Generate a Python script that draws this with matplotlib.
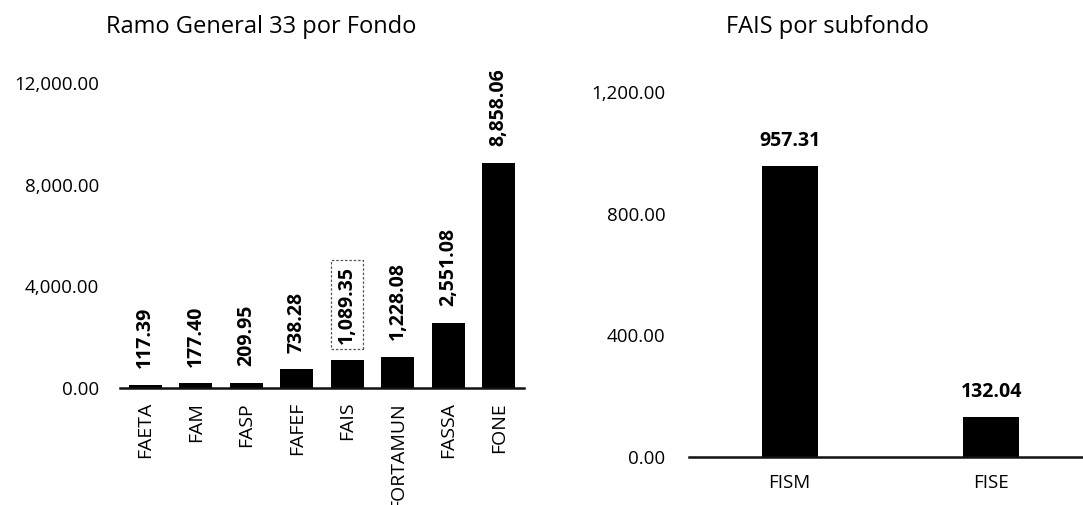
import matplotlib
matplotlib.use("Agg")
import matplotlib.pyplot as plt
from matplotlib.ticker import FuncFormatter

plt.rcParams['font.family'] = ['Open Sans', 'DejaVu Sans']

# Data
fondos = ["FAETA", "FAM", "FASP", "FAFEF", "FAIS", "FORTAMUN", "FASSA", "FONE"]
fondos_vals = [117.39, 177.40, 209.95, 738.28, 1089.35, 1228.08, 2551.08, 8858.06]
fondos_ticks = [0, 4000, 8000, 12000]

subfondos = ["FISM", "FISE"]
subfondos_vals = [957.31, 132.04]
subfondos_ticks = [0, 400, 800, 1200]

W, H = 1083, 505
fig = plt.figure(figsize=(W / 100, H / 100), dpi=100)

fmt = FuncFormatter(lambda v, p: f"{v:,.2f}")

def style(ax):
    for s in ["top", "right", "left"]:
        ax.spines[s].set_visible(False)
    ax.spines["bottom"].set_linewidth(1.8)
    ax.spines["bottom"].set_color("#111111")
    ax.tick_params(axis="both", length=0)
    ax.tick_params(axis="y", labelsize=13.5)
    ax.tick_params(axis="x", labelsize=14)
    ax.yaxis.set_major_formatter(fmt)

# Left chart
ax1 = fig.add_axes([120 / W, 1 - 388 / H, 404 / W, 305 / H])
x1 = range(len(fondos))
ax1.bar(x1, fondos_vals, width=0.66, color="black")
ax1.set_xlim(-0.5, len(fondos) - 0.5)
ax1.set_ylim(0, 12000)
ax1.set_yticks(fondos_ticks)
ax1.set_xticks(list(x1))
ax1.set_xticklabels(fondos, rotation=90)
style(ax1)
ax1.tick_params(axis="x", pad=10)
ax1.tick_params(axis="y", pad=15)
for i, v in enumerate(fondos_vals):
    kw = {}
    if fondos[i] == "FAIS":
        kw["bbox"] = dict(boxstyle="square,pad=0.3", fc="none", ec="#555555",
                          ls=(0, (2, 1.5)), lw=0.9)
    ax1.annotate(f"{v:,.2f}", (i, v), xytext=(0, 12), textcoords="offset points",
                 rotation=90, ha="center", va="bottom", fontsize=14,
                 fontweight="bold", annotation_clip=False, **kw)

# Right chart
ax2 = fig.add_axes([689 / W, 1 - 457 / H, 403 / W, 365 / H])
x2 = range(len(subfondos))
ax2.bar(x2, subfondos_vals, width=0.28, color="black")
ax2.set_xlim(-0.5, len(subfondos) - 0.5)
ax2.set_ylim(0, 1200)
ax2.set_yticks(subfondos_ticks)
ax2.set_xticks(list(x2))
ax2.set_xticklabels(subfondos)
style(ax2)
ax2.tick_params(axis="x", pad=12, labelsize=13.5)
ax2.tick_params(axis="y", pad=17)
for i, v in enumerate(subfondos_vals):
    ax2.annotate(f"{v:,.2f}", (i, v), xytext=(0, 11), textcoords="offset points",
                 ha="center", va="bottom", fontsize=14, fontweight="bold",
                 annotation_clip=False)

# Titles
fig.text(261 / W, 1 - 27 / H, "Ramo General 33 por Fondo", ha="center", va="center",
         fontsize=17)
fig.text(827 / W, 1 - 27 / H, "FAIS por subfondo", ha="center", va="center",
         fontsize=17)

fig.savefig("out.png", dpi=100)
